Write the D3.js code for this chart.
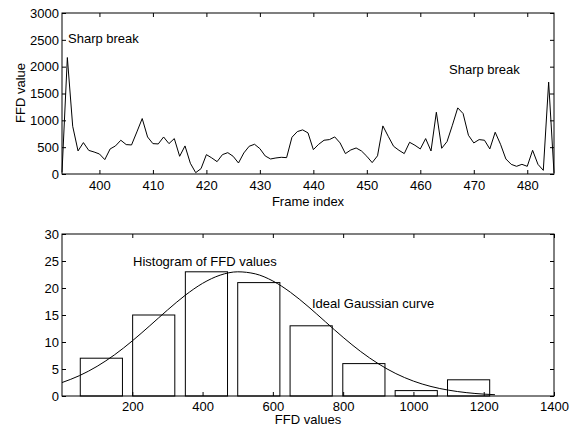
<!DOCTYPE html>
<html lang="en">
<head>
<meta charset="UTF-8">
<title>FFD values</title>
<script src="https://cdnjs.cloudflare.com/ajax/libs/d3/7.8.5/d3.min.js"></script>
<style>
  body { margin: 0; background: #fff; }
  svg { display: block; font-family: "Liberation Sans", Arial, sans-serif; }
  .tick text { font-size: 13px; fill: #000; }
  .lbl { font-size: 13px; fill: #000; }
</style>
</head>
<body>
<svg id="viz"></svg>
<script>
// top panel: FFD value per frame (frames 393..485)
const firstFrame = 393;
const ffdValues = [
  30, 2170, 890, 430, 585, 440, 410, 373, 268, 467,
  523, 629, 548, 541, 784, 1033, 690, 566, 560, 690,
  566, 660, 330, 523, 200, 25, 100, 361, 300, 230,
  361, 398, 330, 205, 392, 517, 554, 473, 336, 280,
  299, 311, 305, 685, 790, 822, 766, 454, 554, 629,
  641, 691, 579, 380, 448, 485, 429, 330, 212, 339,
  896, 703, 517, 442, 380, 591, 535, 467, 660, 429,
  1151, 479, 604, 909, 1232, 1127, 722, 579, 641, 629,
  467, 778, 554, 280, 180, 143, 180, 143, 442, 180,
  68, 1712, 20
];
const frameTicks = [400, 410, 420, 430, 440, 450, 460, 470, 480];
const ffdTicks = [0, 500, 1000, 1500, 2000, 2500, 3000];

// bottom panel: histogram of FFD values
const binCenters = [112, 261, 411, 560, 709, 859, 1008, 1157];
const binCounts = [7, 15, 23, 21, 13, 6, 1, 3];
const binWidth = 120;
const gaussX = [0, 50, 100, 150, 200, 250, 300, 350, 400, 450, 500, 550, 600, 650,
  700, 750, 800, 850, 900, 950, 1000, 1050, 1100, 1150, 1200, 1232];
const gaussY = [2.49, 3.78, 5.50, 7.65, 10.20, 13.02, 15.91, 18.62, 20.86, 22.38, 23.0, 22.62, 21.30, 19.21,
  16.59, 13.72, 10.86, 8.23, 5.98, 4.15, 2.76, 1.76, 1.08, 0.63, 0.35, 0.24];
const valueTicks = [200, 400, 600, 800, 1000, 1200, 1400];
const countTicks = [0, 5, 10, 15, 20, 25, 30];

const width = 572, height = 426;
const left = 62, right = 554;
const fmt = d3.format('d');
const svg = d3.select('#viz').attr('width', width).attr('height', height);

// matlab style box: inward ticks on all four sides
function box(g, x, y, xt, yt, top, bottom, xPad) {
  g.append('g').attr('transform', `translate(0,${bottom})`)
    .call(d3.axisBottom(x).tickValues(xt).tickFormat(fmt).tickSizeInner(-4).tickSizeOuter(0).tickPadding(xPad))
    .call(a => a.select('.domain').remove());
  g.append('g').attr('transform', `translate(0,${top})`)
    .call(d3.axisTop(x).tickValues(xt).tickSizeInner(-4).tickSizeOuter(0).tickFormat(''))
    .call(a => a.select('.domain').remove());
  g.append('g').attr('transform', `translate(${left},0)`)
    .call(d3.axisLeft(y).tickValues(yt).tickFormat(fmt).tickSizeInner(-4).tickSizeOuter(0).tickPadding(3))
    .call(a => a.select('.domain').remove());
  g.append('g').attr('transform', `translate(${right},0)`)
    .call(d3.axisRight(y).tickValues(yt).tickSizeInner(-4).tickSizeOuter(0).tickFormat(''))
    .call(a => a.select('.domain').remove());
  g.selectAll('.tick line').attr('stroke', '#000');
  g.append('rect')
    .attr('x', left).attr('y', top)
    .attr('width', right - left).attr('height', bottom - top)
    .attr('fill', 'none').attr('stroke', '#000').attr('stroke-width', 1);
}

// ---- top panel ----
const t = svg.append('g');
const xTop = d3.scaleLinear().domain([393, 485]).range([left, right]);
const yTop = d3.scaleLinear().domain([0, 3000]).range([174, 13]);

t.append('path')
  .datum(ffdValues)
  .attr('fill', 'none')
  .attr('stroke', '#000')
  .attr('stroke-width', 1)
  .attr('d', d3.line().x((d, i) => xTop(firstFrame + i)).y(d => yTop(d)));

box(t, xTop, yTop, frameTicks, ffdTicks, 13, 174, 7);

t.append('text').attr('class', 'lbl').attr('x', 68).attr('y', 43).text('Sharp break');
t.append('text').attr('class', 'lbl').attr('x', 449).attr('y', 74).text('Sharp break');
t.append('text').attr('class', 'lbl').attr('text-anchor', 'middle')
  .attr('x', 308).attr('y', 206).text('Frame index');
t.append('text').attr('class', 'lbl').attr('text-anchor', 'middle')
  .attr('transform', 'translate(25,93) rotate(-90)').text('FFD value');

// ---- bottom panel ----
const b = svg.append('g');
const xBot = d3.scaleLinear().domain([0, 1400]).range([left, right]);
const yBot = d3.scaleLinear().domain([0, 30]).range([396, 234]);

b.selectAll('rect.bar')
  .data(binCenters)
  .enter()
  .append('rect')
  .attr('class', 'bar')
  .attr('x', d => xBot(d - binWidth / 2))
  .attr('width', xBot(binWidth) - xBot(0))
  .attr('y', (d, i) => yBot(binCounts[i]))
  .attr('height', (d, i) => yBot(0) - yBot(binCounts[i]))
  .attr('fill', 'none')
  .attr('stroke', '#000')
  .attr('stroke-width', 1);

b.append('path')
  .datum(gaussX)
  .attr('fill', 'none')
  .attr('stroke', '#000')
  .attr('stroke-width', 1)
  .attr('d', d3.line().curve(d3.curveMonotoneX).x(d => xBot(d)).y((d, i) => yBot(gaussY[i])));

box(b, xBot, yBot, valueTicks, countTicks, 234, 396, 6);

b.append('text').attr('class', 'lbl').attr('x', 133).attr('y', 266).text('Histogram of FFD values');
b.append('text').attr('class', 'lbl').attr('x', 312).attr('y', 308).text('Ideal Gaussian curve');
b.append('text').attr('class', 'lbl').attr('text-anchor', 'middle')
  .attr('x', 308).attr('y', 424).text('FFD values');
</script>
</body>
</html>
